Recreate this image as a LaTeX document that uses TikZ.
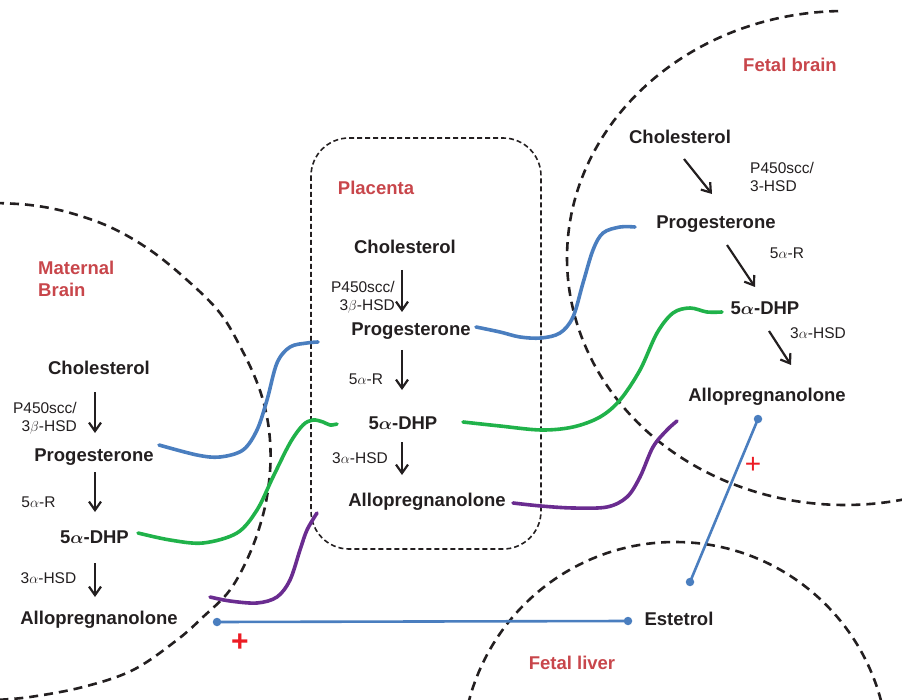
\documentclass[tikz,border=0pt]{standalone}
\usepackage{fontspec}
\setmainfont{Liberation Sans}
\usetikzlibrary{arrows.meta,calc}
\definecolor{redlab}{HTML}{C8464B}
\definecolor{cblue}{HTML}{4A7EBF}
\definecolor{cgreen}{HTML}{20B24A}
\definecolor{cpurple}{HTML}{6A2C90}
\definecolor{ink}{HTML}{231F20}
\definecolor{plusred}{HTML}{EC1C24}
\tikzset{
 mol/.style={font=\bfseries\fontsize{18.5}{22}\selectfont, text=ink, inner sep=0pt, text height=13.3pt, text depth=0pt},
 enz/.style={font=\fontsize{15.5}{18}\selectfont, text=ink, inner sep=0pt},
 organ/.style={font=\bfseries\fontsize{18.5}{22}\selectfont, text=redlab, inner sep=0pt},
 arr/.style={draw=ink, line width=2.2pt, -{Straight Barb[length=8.5pt,width=12pt]}},
 circ/.style={draw=ink, line width=2.6pt, dash pattern=on 9pt off 6pt},
 pbox/.style={draw=ink, line width=1.6pt, dash pattern=on 5pt off 3pt, rounded corners=38pt},
 flow/.style={line width=3.6pt, line cap=round, line join=round},
 link/.style={draw=cblue, line width=2.6pt},
 dot/.style={circle, fill=cblue, inner sep=0pt, minimum size=8.5pt},
 plus/.style={text=plusred, inner sep=0pt}
}
\begin{document}
\begin{tikzpicture}[x=1pt,y=-1pt]
\useasboundingbox (0,0) rectangle (902,700);
\begin{scope}
\clip (0,0) rectangle (902,700);
% maternal brain boundary
\draw[circ] plot[smooth, tension=0.6] coordinates {(-5,203) (30,205) (67,212) (110,227) (150,250) (187,280) (220,313) (242,350) (258,385) (267,417) (270.5,450) (269,482) (263,515) (250,553) (230,590) (203,617) (177,640) (133,670) (83,687) (30,697) (-5,700)};
% fetal brain boundary
\coordinate (fbc) at (845,258);
\draw[circ] (fbc) ++(268.6:278 and 247) arc[start angle=268.6, end angle=75, x radius=278, y radius=247];
% fetal liver boundary
\coordinate (flc) at (675,755);
\draw[circ] (flc) circle[radius=213];
\end{scope}
% placenta box
\draw[pbox] (311,138) rectangle (541,549);

% organ labels
\node[organ, align=left, anchor=north west] (lmat) at (38,260.5) {Maternal\\Brain};
\node[organ] (lpla) at (376,188) {Placenta};
\node[organ] (lfb) at (790,65) {Fetal brain};
\node[organ] (lfl) at (572,663) {Fetal liver};

% maternal brain
\node[mol] (mchol) at (99,368) {Cholesterol};
\node[mol] (mprog) at (94,455) {Progesterone};
\node[mol] (mdhp) at (94.5,537) {5{\boldmath$\alpha$}-DHP};
\node[mol] (mallo) at (99,618) {Allopregnanolone};
\node[enz, align=right, anchor=north east] (me1) at (77,402.5) {P450scc/\\3$\beta$-HSD};
\node[enz] (me2) at (38.5,502) {5$\alpha$-R};
\node[enz] (me3) at (48.5,578) {3$\alpha$-HSD};
\draw[arr] ($(mchol)+(-4,24)$) -- ($(mprog)+(1,-22)$);
\draw[arr] ($(mprog)+(1,17)$) -- ($(mdhp)+(0.5,-25)$);
\draw[arr] ($(mdhp)+(0.5,26)$) -- ($(mallo)+(-4,-21)$);

% placenta
\node[mol] (pchol) at (405,247) {Cholesterol};
\node[mol] (pprog) at (411,329) {Progesterone};
\node[mol] (pdhp) at (403,423) {5{\boldmath$\alpha$}-DHP};
\node[mol] (pallo) at (427,500) {Allopregnanolone};
\node[enz, align=right, anchor=north east] (pe1) at (395,281.5) {P450scc/\\3$\beta$-HSD};
\node[enz] (pe2) at (366,379) {5$\alpha$-R};
\node[enz] (pe3) at (360,458) {3$\alpha$-HSD};
\draw[arr] ($(pchol)+(-3,23)$) -- ($(pprog)+(-9,-17)$);
\draw[arr] ($(pprog)+(-9,21)$) -- ($(pdhp)+(-1,-33)$);
\draw[arr] ($(pdhp)+(-1,19)$) -- ($(pallo)+(-25,-25)$);

% fetal brain
\node[mol] (fchol) at (680,137) {Cholesterol};
\node[mol] (fprog) at (716,222) {Progesterone};
\node[mol] (fdhp) at (765,308) {5{\boldmath$\alpha$}-DHP};
\node[mol] (fallo) at (767,395) {Allopregnanolone};
\node[enz, align=left, anchor=north west] (fe1) at (750,162.5) {P450scc/\\3-HSD};
\node[enz] (fe2) at (787,253) {5$\alpha$-R};
\node[enz] (fe3) at (818,333) {3$\alpha$-HSD};
\draw[arr] ($(fchol)+(4,22)$) -- ($(fprog)+(-4,-28)$);
\draw[arr] ($(fprog)+(11,23)$) -- ($(fdhp)+(-10,-21)$);
\draw[arr] ($(fdhp)+(4,23)$) -- ($(fallo)+(24,-30)$);

% fetal liver
\node[mol] (est) at (679,619) {Estetrol};

% transfer curves
\coordinate (b1s) at (159,445); \coordinate (b1e) at (318,342);
\coordinate (b2s) at (476,327); \coordinate (b2e) at (635,227);
\coordinate (g1s) at (138,533); \coordinate (g1e) at (337,424);
\coordinate (g2s) at (463,422); \coordinate (g2e) at (722,312);
\coordinate (v1s) at (210,597); \coordinate (v1e) at (317,513);
\coordinate (v2s) at (513,503); \coordinate (v2e) at (677,421);
\draw[flow, cblue] plot[smooth, tension=0.55] coordinates {(b1s) (197,455) (220,457) (243,450) (257,430) (267,400) (277,363) (290,347) (307,343) (b1e)};
\draw[flow, cblue] plot[smooth, tension=0.55] coordinates {(b2s) (500,332) (520,337) (541,338) (560,333) (573,317) (583,283) (593,250) (603,233) (620,227) (b2e)};
\draw[flow, cgreen] plot[smooth, tension=0.55] coordinates {(g1s) (170,540) (203,543) (237,533) (257,510) (273,477) (290,443) (303,425) (313,420) (323,422) (330,425) (g1e)};
\draw[flow, cgreen] plot[smooth, tension=0.55] coordinates {(g2s) (500,426) (541,430) (573,427) (600,417) (620,400) (640,370) (657,333) (673,313) (690,308) (707,312) (g2e)};
\draw[flow, cpurple] plot[smooth, tension=0.55] coordinates {(v1s) (230,601) (257,603) (277,597) (290,580) (300,550) (307,530) (v1e)};
\draw[flow, cpurple] plot[smooth, tension=0.55] coordinates {(v2s) (541,506) (573,508) (607,507) (627,497) (640,477) (653,447) (667,430) (v2e)};

% estetrol links
\node[dot] (d1) at (217,622) {};
\node[dot] (d2) at (628,621) {};
\node[dot] (d3) at (690,582) {};
\node[dot] (d4) at (758,419) {};
\draw[link] (d1.center) -- (d2.center);
\draw[link] (d3.center) -- (d4.center);
\node[plus, font=\bfseries\fontsize{30}{30}\selectfont] (p1) at (240,643) {+};
\node[plus, font=\fontsize{28}{28}\selectfont] (p2) at (753,465) {+};
\end{tikzpicture}
\end{document}
